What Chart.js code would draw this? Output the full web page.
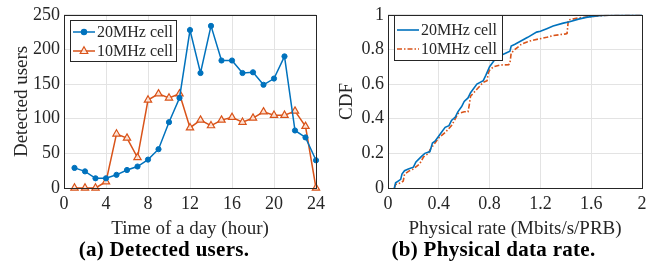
<!DOCTYPE html>
<html>
<head>
<meta charset="utf-8">
<script src="https://cdn.jsdelivr.net/npm/chart.js@4/dist/chart.umd.min.js"></script>
<style>
  html, body { margin: 0; padding: 0; background: #fff; }
  body { width: 657px; height: 267px; position: relative; overflow: hidden; }
  .wrap { position: absolute; top: 0; height: 240px; }
  .cap { position: absolute; top: 237px; font-family: "Liberation Serif", serif; font-weight: bold; font-size: 21px; color: #000; text-align: center; letter-spacing: 0.3px; }
</style>
</head>
<body>
<div class="wrap" style="left:0;width:330px;"><canvas id="c1" width="330" height="240"></canvas></div>
<div class="wrap" style="left:330px;width:327px;"><canvas id="c2" width="327" height="240"></canvas></div>
<div class="cap" style="left:0;width:328px;">(a) Detected users.</div>
<div class="cap" style="left:330px;width:327px;">(b) Physical data rate.</div>
<script>
// ---- data ----
const hours = [1,2,3,4,5,6,7,8,9,10,11,12,13,14,15,16,17,18,19,20,21,22,23,24];
const users20 = [29,24,14,14,19,26,31,41,56,95,130,228,166,234,184,184,166,167,149,158,190,83,73,40];
const users10 = [0,0,0,9,78,72,44,127,136,130,136,87,98,90,98,102,95,101,110,105,105,111,89,0];
const seriesNames = ["20MHz cell", "10MHz cell"];
const xTicksA = [0,4,8,12,16,20,24];
const yTicksA = [0,50,100,150,200,250];

const rate20 = [0.05,0.06,0.08,0.10,0.11,0.13,0.16,0.20,0.22,0.26,0.29,0.33,0.35,0.37,0.40,0.42,0.45,0.48,0.50,0.53,0.55,0.58,0.60,0.63,0.65,0.70,0.75,0.77,0.80,0.82,0.85,0.88,0.90,0.93,0.96,0.97,1.00,1.05,1.10,1.17,1.20,1.25,1.30,1.38,1.43,1.50,1.56,1.64,1.69,1.80,1.90,2.00];
const cdf20  = [0.00,0.03,0.04,0.05,0.08,0.10,0.11,0.12,0.15,0.18,0.20,0.21,0.26,0.27,0.30,0.32,0.35,0.36,0.39,0.41,0.44,0.47,0.50,0.52,0.55,0.60,0.62,0.65,0.70,0.72,0.75,0.77,0.77,0.78,0.79,0.82,0.83,0.85,0.87,0.90,0.905,0.92,0.935,0.952,0.96,0.975,0.985,0.994,0.996,0.999,1.00,1.00];
const rate10 = [0.05,0.06,0.10,0.12,0.13,0.17,0.20,0.25,0.28,0.32,0.33,0.37,0.40,0.45,0.50,0.53,0.55,0.60,0.63,0.64,0.65,0.70,0.75,0.78,0.79,0.80,0.83,0.88,0.95,0.96,0.97,1.00,1.05,1.10,1.15,1.25,1.30,1.40,1.41,1.42,1.50,1.60,1.70,1.80,2.00];
const cdf10  = [0.00,0.02,0.03,0.04,0.08,0.10,0.11,0.14,0.18,0.20,0.22,0.26,0.29,0.32,0.36,0.40,0.43,0.44,0.44,0.48,0.53,0.57,0.61,0.62,0.665,0.68,0.70,0.71,0.712,0.72,0.78,0.80,0.83,0.845,0.855,0.87,0.88,0.89,0.893,0.97,0.982,0.99,0.996,0.999,1.00];
const xTicksB = [0,0.4,0.8,1.2,1.6,2];
const yTicksB = [0,0.2,0.4,0.6,0.8,1];

const BLUE = "#0072BD", ORANGE = "#D95319";
const FONT = "Liberation Serif";
const TXT = "#262626";

function boxPlugin(legendBox) {
  return {
    id: "boxlegend",
    afterDraw(chart) {
      const ctx = chart.ctx, a = chart.chartArea;
      ctx.save();
      ctx.strokeStyle = "#262626";
      ctx.lineWidth = 1;
      ctx.strokeRect(Math.round(a.left) + 0.5, Math.round(a.top) + 0.5, Math.round(a.right - a.left), Math.round(a.bottom - a.top));
      // legend
      const L = legendBox;
      ctx.fillStyle = "#fff";
      ctx.fillRect(L.x, L.y, L.w, L.h);
      ctx.strokeRect(L.x + 0.5, L.y + 0.5, L.w, L.h);
      ctx.font = L.fontSize + "px '" + FONT + "'";
      ctx.textBaseline = "middle";
      ctx.fillStyle = TXT;
      chart.data.datasets.forEach((ds, i) => {
        const y = L.y + L.row0 + i * L.rowH;
        ctx.save();
        ctx.strokeStyle = ds.borderColor;
        ctx.lineWidth = ds.borderWidth;
        ctx.setLineDash(ds.borderDash || []);
        ctx.beginPath();
        ctx.moveTo(L.x + L.lx0, y);
        ctx.lineTo(L.x + L.lx1, y);
        ctx.stroke();
        ctx.setLineDash([]);
        if (ds.pointRadius > 0) {
          const cx = (L.x + L.lx0 + L.x + L.lx1) / 2;
          ctx.fillStyle = ds.pointBackgroundColor;
          ctx.strokeStyle = ds.borderColor;
          ctx.lineWidth = 1.2;
          ctx.beginPath();
          if (ds.pointStyle === "triangle") {
            const r = ds.pointRadius;
            ctx.moveTo(cx, y - r);
            ctx.lineTo(cx + r * 0.9, y + r * 0.6);
            ctx.lineTo(cx - r * 0.9, y + r * 0.6);
            ctx.closePath();
          } else {
            ctx.arc(cx, y, ds.pointRadius, 0, Math.PI * 2);
          }
          ctx.fill();
          ctx.stroke();
        }
        ctx.restore();
        ctx.fillStyle = TXT;
        ctx.fillText(seriesNames[i], L.x + L.tx, y + 1);
      });
      ctx.restore();
    }
  };
}

function axisOpts(min, max, ticks, title, fixedSize, isX, titlePad) {
  return {
    type: "linear", min: min, max: max,
    afterBuildTicks: s => { s.ticks = ticks.map(v => ({ value: v })); },
    afterFit: s => { if (isX) s.height = fixedSize; else s.width = fixedSize; },
    grid: { color: "#e3e3e3", drawTicks: false, lineWidth: 1 },
    border: { display: false },
    ticks: { color: TXT, font: { family: FONT, size: 18 }, padding: isX ? 5 : 4, maxRotation: 0, autoSkip: false,
             callback: v => String(v) },
    title: { display: true, text: title, color: TXT, font: { family: FONT, size: 19 }, padding: titlePad }
  };
}

new Chart(document.getElementById("c1"), {
  type: "line",
  data: {
    datasets: [
      { label: seriesNames[0], data: hours.map((h, i) => ({ x: h, y: users20[i] })),
        borderColor: BLUE, backgroundColor: BLUE, pointBackgroundColor: BLUE, pointBorderColor: BLUE,
        borderWidth: 1.5, pointRadius: 2.6, pointStyle: "circle", pointBorderWidth: 1, tension: 0 },
      { label: seriesNames[1], data: hours.map((h, i) => ({ x: h, y: users10[i] })),
        borderColor: ORANGE, backgroundColor: ORANGE, pointBackgroundColor: "rgba(255,235,225,0.9)", pointBorderColor: ORANGE,
        borderWidth: 1.5, pointRadius: 4.2, pointStyle: "triangle", pointBorderWidth: 1.2, tension: 0 }
    ]
  },
  options: {
    responsive: false, animation: false, clip: false,
    layout: { padding: { left: 0, right: 14, top: 14, bottom: 0 } },
    plugins: { legend: { display: false }, tooltip: { enabled: false } },
    scales: {
      x: axisOpts(0, 24, xTicksA, "Time of a day (hour)", 52, true, { top: 0, bottom: 0 }),
      y: axisOpts(0, 250, yTicksA, "Detected users", 64, false, { top: 11, bottom: 0 })
    }
  },
  plugins: [boxPlugin({ x: 70, y: 20, w: 106, h: 41, fontSize: 16, row0: 12, rowH: 19, lx0: 3, lx1: 25, tx: 27 })]
});

new Chart(document.getElementById("c2"), {
  type: "line",
  data: {
    datasets: [
      { label: seriesNames[0], data: rate20.map((r, i) => ({ x: r, y: cdf20[i] })),
        borderColor: BLUE, borderWidth: 1.6, pointRadius: 0, tension: 0 },
      { label: seriesNames[1], data: rate10.map((r, i) => ({ x: r, y: cdf10[i] })),
        borderColor: ORANGE, borderWidth: 1.6, pointRadius: 0, tension: 0, borderDash: [5, 2, 1.5, 2] }
    ]
  },
  options: {
    responsive: false, animation: false,
    layout: { padding: { left: 0, right: 15, top: 13, bottom: 0 } },
    plugins: { legend: { display: false }, tooltip: { enabled: false } },
    scales: {
      x: axisOpts(0, 2, xTicksB, "Physical rate (Mbits/s/PRB)", 52, true, { top: 0, bottom: 0 }),
      y: axisOpts(0, 1, yTicksB, "CDF", 58, false, { top: 6, bottom: 0 })
    }
  },
  plugins: [boxPlugin({ x: 64, y: 15, w: 108, h: 45, fontSize: 16, row0: 15, rowH: 19, lx0: 3, lx1: 25, tx: 27 })]
});
</script>
</body>
</html>
